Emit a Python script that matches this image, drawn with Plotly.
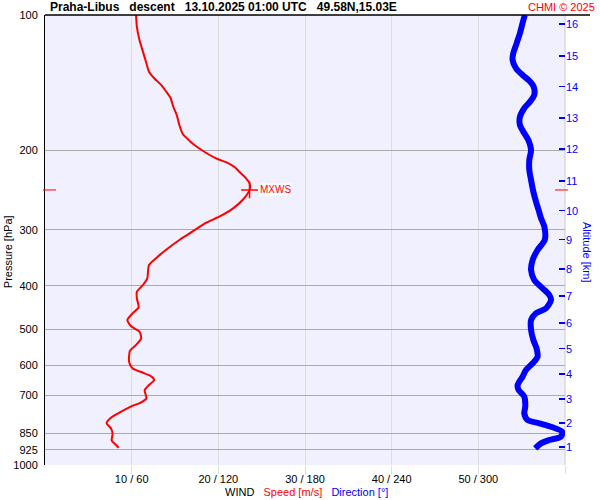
import math
import plotly.graph_objects as go

# ---- data ----
# wind speed profile (pressure hPa, speed m/s)
speed_p = [100.0, 106.2, 113.7, 120.6, 128.0, 133.7, 138.2, 143.0, 148.1, 153.1,
           159.9, 166.8, 175.6, 183.9, 190.5, 195.5, 200.3, 204.7, 208.9, 212.4,
           218.0, 224.8, 230.6, 236.6, 244.8, 257.7, 268.9, 280.7, 289.5, 303.1,
           316.2, 330.0, 344.5, 359.4, 384.8, 398.1, 412.0, 426.2, 446.3, 460.2,
           476.2, 491.1, 505.5, 522.8, 541.1, 557.2, 589.5, 609.8, 623.7, 634.4,
           647.5, 664.3, 681.5, 710.9, 725.6, 742.0, 761.3, 785.0, 807.7, 828.6,
           850.3, 883.1, 902.8, 915.4]
speed_ms = [10.5, 10.6, 10.9, 11.3, 11.7, 12.0, 12.6, 13.4, 14.0, 14.5,
            14.8, 15.2, 15.5, 15.9, 16.7, 17.4, 18.2, 19.0, 19.9, 20.9,
            21.9, 22.6, 23.2, 23.6, 23.6, 22.8, 21.7, 20.1, 18.6, 17.0,
            15.5, 14.2, 13.0, 12.0, 11.8, 11.3, 10.6, 10.6, 10.8, 10.1,
            9.5, 9.9, 10.9, 11.1, 10.5, 9.8, 9.7, 10.1, 11.3, 12.2,
            12.6, 12.0, 11.5, 11.7, 11.1, 9.9, 8.8, 7.6, 7.1, 7.6,
            7.8, 7.7, 8.2, 8.5]

# wind direction profile (pressure hPa, direction deg)
dir_p = [100.0, 104.3, 109.8, 115.6, 121.6, 125.9, 131.4, 135.9, 140.0, 144.3,
         150.6, 155.8, 161.1, 168.3, 175.6, 183.2, 190.2, 199.5, 210.0, 221.0,
         232.6, 247.1, 259.9, 271.2, 283.0, 295.4, 316.2, 332.8, 350.3, 368.7,
         388.1, 404.9, 419.0, 429.9, 448.6, 460.2, 476.2, 501.2, 527.5, 550.4,
         574.5, 594.3, 615.1, 636.5, 664.3, 681.5, 705.0, 742.0, 767.3, 794.3,
         807.7, 824.4, 843.3, 865.1, 879.9, 895.0, 918.2]
dir_deg = [332.2, 330.6, 328.8, 326.5, 324.2, 323.7, 326.1, 330.6, 335.3, 338.3,
           338.7, 335.8, 331.8, 328.8, 328.8, 331.8, 334.8, 336.5, 335.3, 335.3,
           336.5, 338.1, 339.9, 341.7, 343.4, 345.7, 346.0, 341.0, 337.6, 336.5,
           338.7, 344.5, 349.1, 350.3, 346.8, 339.9, 336.5, 336.5, 338.1, 340.3,
           341.0, 337.6, 333.0, 330.6, 327.2, 327.9, 331.8, 332.5, 331.8, 334.1,
           342.2, 351.4, 358.0, 357.2, 349.1, 343.4, 339.4]

# maximum wind
mxws_speed = 23.6
mxws_p = 244.8

# axes ticks
pressure_ticks = [100, 200, 300, 400, 500, 600, 700, 850, 925, 1000]
speed_ticks = [10, 20, 30, 40, 50, 60]
dir_ticks = [60, 120, 180, 240, 300, 360]
alt_km = [1, 2, 3, 4, 5, 6, 7, 8, 9, 10, 11, 12, 13, 14, 15, 16]
alt_p = [912.0, 806.6, 713.5, 627.9, 551.5, 483.6, 421.2, 366.8, 315.7, 272.2,
         233.8, 198.5, 169.4, 144.3, 123.3, 104.7]

RED = '#ff0000'
BLUE = '#0000ff'
FONT = 'Liberation Sans, Arial, sans-serif'

fig = go.Figure()
fig.add_trace(go.Scatter(x=speed_ms, y=speed_p, mode='lines',
                         line=dict(color=RED, width=2, shape='spline', smoothing=0.6),
                         xaxis='x', yaxis='y', hoverinfo='skip'))
fig.add_trace(go.Scatter(x=dir_deg, y=dir_p, mode='lines',
                         line=dict(color=BLUE, width=6, shape='spline', smoothing=0.8),
                         xaxis='x2', yaxis='y2', hoverinfo='skip'))
fig.add_trace(go.Scatter(x=[mxws_speed], y=[mxws_p], mode='markers',
                         marker=dict(symbol='cross-thin', size=12,
                                     line=dict(color=RED, width=1.5)),
                         xaxis='x', yaxis='y', hoverinfo='skip'))

tick_text = [f"{s} / {d}" if s < 60 else "" for s, d in zip(speed_ticks, dir_ticks)]

W = 520.0
H = 450.0

fig.update_layout(
    width=600, height=500,
    margin=dict(l=45, r=35, t=15, b=35),
    paper_bgcolor='white', plot_bgcolor='#f0f0ff',
    showlegend=False,
    font=dict(family=FONT, size=11, color='black'),
    xaxis=dict(range=[0, 60], tickmode='array', tickvals=speed_ticks, ticktext=tick_text,
               showgrid=True, gridcolor='#dddddd', gridwidth=1, zeroline=False,
               showline=False, ticks='outside', ticklen=8, tickcolor='#dddddd',
               ticklabelstandoff=-4, automargin=False,
               tickfont=dict(size=11, color='black')),
    xaxis2=dict(range=[0, 360], overlaying='x', visible=False),
    yaxis=dict(type='log', range=[3, 2], tickmode='array', tickvals=pressure_ticks,
               ticktext=[str(p) for p in pressure_ticks],
               showgrid=True, gridcolor='#aaaaaa', gridwidth=1, zeroline=False,
               showline=True, linecolor='black', linewidth=1, ticks='',
               ticklabelstandoff=4, automargin=False,
               tickfont=dict(size=11, color='black')),
    yaxis2=dict(type='log', range=[3, 2], overlaying='y', side='right', anchor='x',
                tickmode='array', tickvals=alt_p, ticktext=[str(a) for a in alt_km],
                showgrid=False, zeroline=False, showline=False, automargin=False,
                ticks='inside', ticklen=6, tickcolor=BLUE, tickwidth=1.5,
                tickfont=dict(size=11, color=BLUE)),
    shapes=[
        dict(type='line', xref='paper', yref='paper', x0=0, x1=545 / W, y0=1, y1=1,
             line=dict(color='black', width=1.5), layer='above'),
        dict(type='line', xref='paper', yref='paper', x0=1, x1=1, y0=0, y1=1,
             line=dict(color='#cccccc', width=1), layer='below'),
        dict(type='line', xref='paper', yref='y', x0=-2 / W, x1=11 / W,
             y0=mxws_p, y1=mxws_p, line=dict(color=RED, width=1), layer='above'),
        dict(type='line', xref='paper', yref='y', x0=1 - 10 / W, x1=1 + 3 / W,
             y0=mxws_p, y1=mxws_p, line=dict(color=RED, width=1), layer='above'),
    ],
    annotations=[
        dict(xref='paper', yref='paper', x=3 / W, y=1, xanchor='left', yanchor='middle',
             yshift=8, showarrow=False,
             text='<b>Praha-Libus\u00a0\u00a0\u00a0descent\u00a0\u00a0\u00a013.10.2025 01:00 UTC'
                  '\u00a0\u00a0\u00a049.58N,15.03E</b>',
             font=dict(size=12, color='black')),
        dict(xref='paper', yref='paper', x=552 / W, y=1, xanchor='right', yanchor='middle',
             yshift=8, showarrow=False, text='CHMI © 2025',
             font=dict(size=11, color=RED)),
        dict(xref='paper', yref='paper', x=-37.3 / W, y=(465 - 251.5) / H, xanchor='center',
             yanchor='middle', textangle=-90, showarrow=False, text='Pressure [hPa]',
             font=dict(size=11, color='black')),
        dict(xref='paper', yref='paper', x=542 / W, y=(465 - 252) / H, xanchor='center',
             yanchor='middle', textangle=90, showarrow=False, text='Altitude [km]',
             font=dict(size=11, color=BLUE)),
        dict(xref='paper', yref='paper', x=261.5 / W, y=(465 - 491.7) / H, xanchor='center',
             yanchor='middle', showarrow=False,
             text='WIND\u00a0\u00a0\u00a0<span style="color:#ff0000">Speed [m/s]</span>'
                  '\u00a0\u00a0\u00a0<span style="color:#0000ff">Direction [°]</span>',
             font=dict(size=11, color='black')),
        dict(xref='x', yref='y', x=mxws_speed, y=math.log10(mxws_p), xanchor='left',
             yanchor='middle', xshift=9, showarrow=False, text='MXWS',
             bgcolor='white', borderpad=0, font=dict(size=10, color=RED)),
    ],
)

fig.write_html("out.html",
               config={'displayModeBar': False, 'staticPlot': True},
               post_script="document.body.style.margin='0';document.body.style.overflow='hidden';")
